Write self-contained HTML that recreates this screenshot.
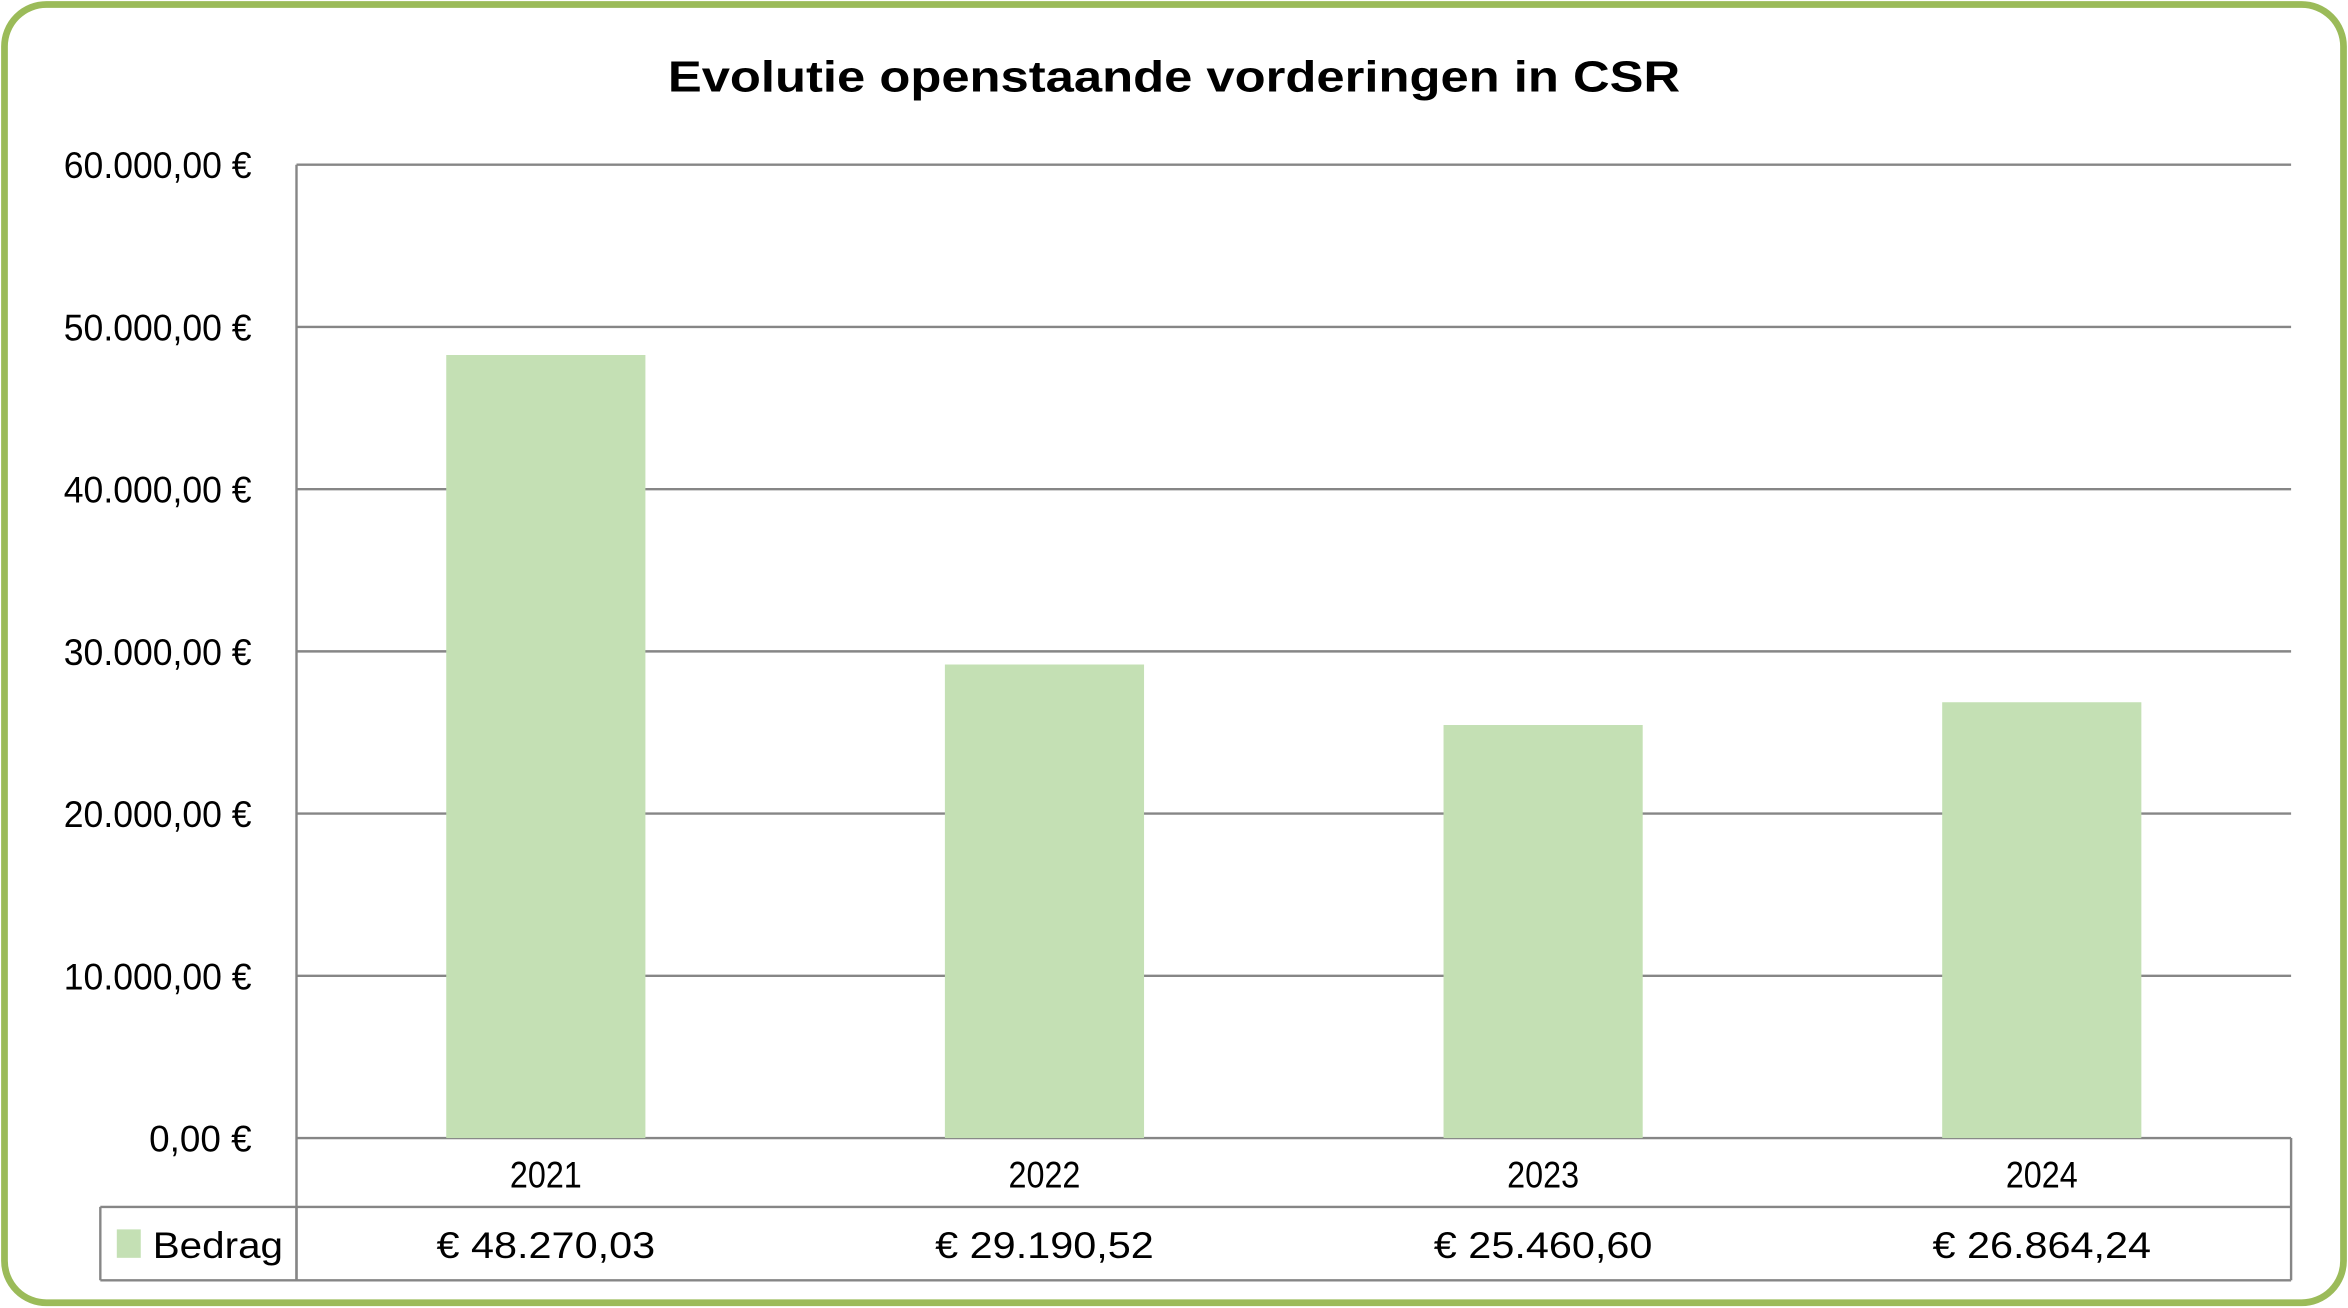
<!DOCTYPE html>
<html><head><meta charset="utf-8"><style>
html,body{margin:0;padding:0;background:#fff;}
svg{display:block;}
text{font-family:"Liberation Sans",sans-serif;fill:#000;}
</style></head><body>
<svg id="chart" width="2348" height="1308" viewBox="0 0 1568 873.5" preserveAspectRatio="none" xmlns="http://www.w3.org/2000/svg">
<rect x="3" y="3" width="1562" height="867" rx="28" ry="28" fill="#fff" stroke="#9bbb59" stroke-width="4.5"/>
<text x="784" y="61" text-anchor="middle" font-size="29" font-weight="bold" textLength="676" lengthAdjust="spacingAndGlyphs">Evolutie openstaande vorderingen in CSR</text>
<g id="grid"></g><g id="bars"></g><g id="table"></g>
</svg>
<script>
const categories = ["2021","2022","2023","2024"];
const values = [48270.03, 29190.52, 25460.60, 26864.24];
const valueLabels = ["€ 48.270,03","€ 29.190,52","€ 25.460,60","€ 26.864,24"];
const yTicks = [0,10000,20000,30000,40000,50000,60000];
const yTickLabels = ["0,00 €","10.000,00 €","20.000,00 €","30.000,00 €","40.000,00 €","50.000,00 €","60.000,00 €"];
const seriesName = "Bedrag";

const NS="http://www.w3.org/2000/svg";
const X0=198,X1=1530,YT=110,YB=760,YMAX=60000;
const y=v=>YB-(v/YMAX)*(YB-YT);
const band=(X1-X0)/categories.length;
const xc=i=>X0+band*(i+0.5);
function mk(tag,attrs,parent,txt){const e=document.createElementNS(NS,tag);for(const k in attrs)e.setAttribute(k,attrs[k]);if(txt!==undefined)e.textContent=txt;parent.appendChild(e);return e;}
const grid=document.getElementById('grid'),bars=document.getElementById('bars'),table=document.getElementById('table');
yTicks.forEach((t,i)=>{
  const l=mk('line',{x1:X0,x2:X1,y1:y(t),y2:y(t),stroke:'#868686','stroke-width':1.6},grid);
  
  
  const tx=mk('text',{x:168,y:y(t)+9,'text-anchor':'end','font-size':25,textLength:yTickLabels[i].length*11.4,lengthAdjust:'spacingAndGlyphs'},grid,yTickLabels[i]);
  
  
});
const ax=mk('line',{x1:X0,x2:X0,y1:YT,y2:855,stroke:'#868686','stroke-width':1.6},grid);


values.forEach((v,i)=>{
  const bw=133;
  const r=mk('rect',{x:xc(i)-bw/2,y:y(v),width:bw,height:YB-y(v),fill:'#c4e0b4'},bars);
  
  
});
// table lines
[[X0,806,X0,855],[67,806,X1,806],[67,855,X1,855],[67,806,67,855],[X1,760,X1,855]].forEach(a=>{
  const l=mk('line',{x1:a[0],y1:a[1],x2:a[2],y2:a[3],stroke:'#868686','stroke-width':1.6},table);
  
  
});
categories.forEach((c,i)=>{
  const t=mk('text',{x:xc(i),y:793,'text-anchor':'middle','font-size':25,textLength:48,lengthAdjust:'spacingAndGlyphs'},table,c);
  
  
  const t2=mk('text',{x:xc(i),y:840,'text-anchor':'middle','font-size':25,textLength:146,lengthAdjust:'spacingAndGlyphs'},table,valueLabels[i]);
  
  
});
const key=mk('rect',{x:78,y:821,width:16,height:19,fill:'#c4e0b4'},table);


const lt=mk('text',{x:102,y:840,'font-size':25,textLength:87,lengthAdjust:'spacingAndGlyphs'},table,seriesName);


</script>
</body></html>
